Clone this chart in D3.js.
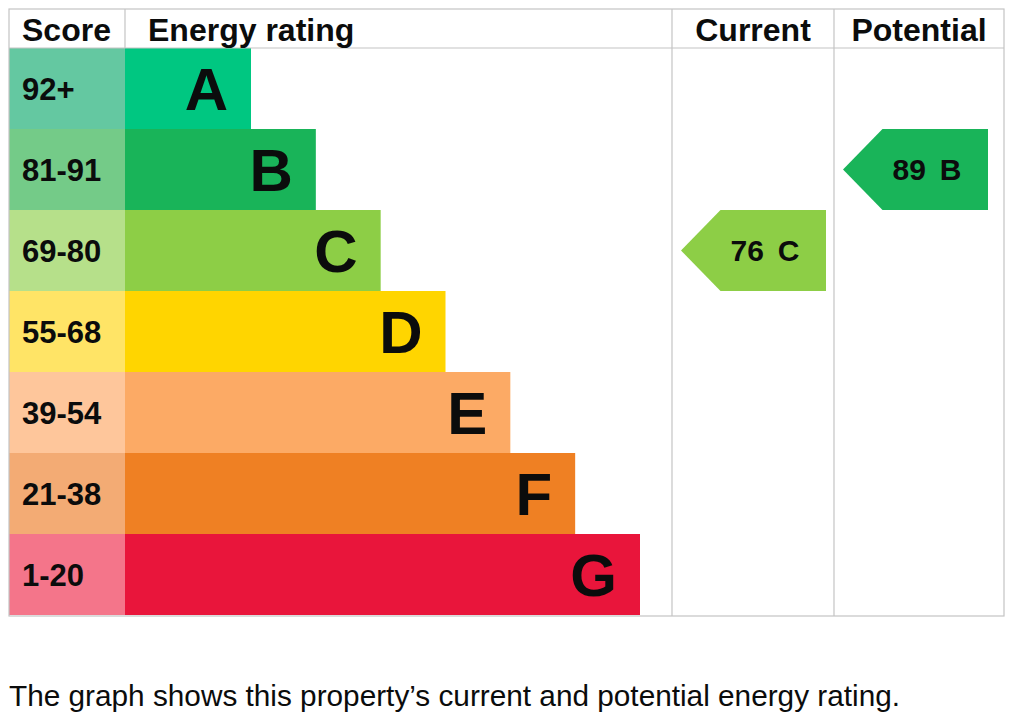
<!DOCTYPE html>
<html>
<head>
<meta charset="utf-8">
<script src="https://cdn.jsdelivr.net/npm/d3@7"></script>
<style>
  html, body { margin: 0; padding: 0; background: #fff; }
  svg { display: block; }
</style>
</head>
<body>
<script>
// EPC energy rating chart

var bands = ['A', 'B', 'C', 'D', 'E', 'F', 'G'];
var scoreLabels = ['92+', '81-91', '69-80', '55-68', '39-54', '21-38', '1-20'];
var bandMin = [92, 81, 69, 55, 39, 21, 1];
var barColors = ['#00c781', '#19b459', '#8dce46', '#ffd500', '#fcaa65', '#ef8023', '#e9153b'];
var scoreColors = ['#64c8a1', '#74cb88', '#b6e08a', '#ffe466', '#fec69b', '#f3ab74', '#f4758a'];
var headers = ['Score', 'Energy rating', 'Current', 'Potential'];
var ratings = [
  {column: 'Current', score: 76},
  {column: 'Potential', score: 89}
];
var caption = 'The graph shows this property\u2019s current and potential energy rating.';

var WIDTH = 1024;
var HEIGHT = 716;
var FONT = '"Liberation Sans", Arial, Helvetica, sans-serif';
var GRID = '#c4c4c4';

var svg = d3.select('body')
  .append('svg')
  .attr('width', WIDTH)
  .attr('height', HEIGHT);

// column edges
var colX = {Score: 9, 'Energy rating': 125, Current: 672, Potential: 834, end: 1004};
var tableTop = 9, headBottom = 48, tableBottom = 616;
var ARROW_W = 145;

var y = d3.scaleBand()
  .domain(bands)
  .range([headBottom, tableBottom - 1]);

// bar end position grows with band index
var barEnd = d3.scaleLinear()
  .domain([0, bands.length - 1])
  .range([251, 640]);

function bandOf(score) {
  for (var i = 0; i < bandMin.length; i++) {
    if (score >= bandMin[i]) return i;
  }
  return bands.length - 1;
}

// score cells
svg.selectAll('rect.score')
  .data(bands)
  .enter()
  .append('rect')
  .attr('class', 'score')
  .attr('x', colX.Score)
  .attr('y', function(d) { return y(d); })
  .attr('width', colX['Energy rating'] - colX.Score)
  .attr('height', y.bandwidth())
  .attr('fill', function(d, i) { return scoreColors[i]; });

svg.selectAll('text.score')
  .data(bands)
  .enter()
  .append('text')
  .attr('class', 'score')
  .attr('x', 22)
  .attr('y', function(d) { return y(d) + y.bandwidth() / 2; })
  .attr('dy', '0.36em')
  .attr('font-family', FONT)
  .attr('font-weight', 'bold')
  .attr('font-size', 31)
  .attr('fill', '#0b0c0c')
  .text(function(d, i) { return scoreLabels[i]; });

// rating bars
svg.selectAll('rect.bar')
  .data(bands)
  .enter()
  .append('rect')
  .attr('class', 'bar')
  .attr('x', colX['Energy rating'])
  .attr('y', function(d) { return y(d); })
  .attr('width', function(d, i) { return barEnd(i) - colX['Energy rating']; })
  .attr('height', y.bandwidth())
  .attr('fill', function(d, i) { return barColors[i]; });

svg.selectAll('text.band')
  .data(bands)
  .enter()
  .append('text')
  .attr('class', 'band')
  .attr('x', function(d, i) { return barEnd(i) - 23; })
  .attr('y', function(d) { return y(d) + y.bandwidth() / 2; })
  .attr('dy', '0.36em')
  .attr('text-anchor', 'end')
  .attr('font-family', FONT)
  .attr('font-weight', 'bold')
  .attr('font-size', 60)
  .attr('fill', '#0b0c0c')
  .text(function(d) { return d; });

// grid lines
var grid = svg.append('g')
  .attr('stroke', GRID)
  .attr('stroke-width', 1.2)
  .attr('fill', 'none');

grid.append('rect')
  .attr('x', colX.Score)
  .attr('y', tableTop)
  .attr('width', colX.end - colX.Score)
  .attr('height', tableBottom - tableTop);

grid.append('line')
  .attr('x1', colX.Score).attr('x2', colX.end)
  .attr('y1', headBottom).attr('y2', headBottom);

grid.append('line')
  .attr('x1', colX['Energy rating']).attr('x2', colX['Energy rating'])
  .attr('y1', tableTop).attr('y2', headBottom);

[colX.Current, colX.Potential].forEach(function(x) {
  grid.append('line')
    .attr('x1', x).attr('x2', x)
    .attr('y1', tableTop).attr('y2', tableBottom);
});

// headers
var headerX = {Score: 22, 'Energy rating': 148};
svg.selectAll('text.header')
  .data(headers)
  .enter()
  .append('text')
  .attr('class', 'header')
  .attr('x', function(d) {
    if (headerX[d] !== undefined) return headerX[d];
    var next = d === 'Current' ? colX.Potential : colX.end;
    return (colX[d] + next) / 2;
  })
  .attr('y', 41)
  .attr('text-anchor', function(d) { return headerX[d] !== undefined ? 'start' : 'middle'; })
  .attr('font-family', FONT)
  .attr('font-weight', 'bold')
  .attr('font-size', 32)
  .attr('fill', '#0b0c0c')
  .text(function(d) { return d; });

// current / potential arrows
var arrows = svg.selectAll('g.arrow')
  .data(ratings)
  .enter()
  .append('g')
  .attr('class', 'arrow');

arrows.append('path')
  .attr('d', function(d) {
    var b = bands[bandOf(d.score)];
    var x0 = colX[d.column] + 9;
    var x1 = x0 + ARROW_W;
    var t = y(b), h = y.bandwidth();
    var tip = h / 2 - 1;
    return 'M' + x0 + ',' + (t + h / 2) +
      'L' + (x0 + tip) + ',' + t +
      'L' + x1 + ',' + t +
      'L' + x1 + ',' + (t + h) +
      'L' + (x0 + tip) + ',' + (t + h) + 'Z';
  })
  .attr('fill', function(d) { return barColors[bandOf(d.score)]; });

var arrowText = arrows.append('text')
  .attr('x', function(d) { return colX[d.column] + 9 + 84; })
  .attr('y', function(d) { return y(bands[bandOf(d.score)]) + y.bandwidth() / 2; })
  .attr('dy', '0.36em')
  .attr('text-anchor', 'middle')
  .attr('font-family', FONT)
  .attr('font-weight', 'bold')
  .attr('font-size', 30)
  .attr('fill', '#0b0c0c');

arrowText.append('tspan').text(function(d) { return d.score; });
arrowText.append('tspan')
  .attr('dx', 14)
  .text(function(d) { return bands[bandOf(d.score)]; });

// caption
svg.append('text')
  .attr('x', 9)
  .attr('y', 706)
  .attr('font-family', FONT)
  .attr('font-size', 29)
  .attr('fill', '#0b0c0c')
  .attr('textLength', 891)
  .attr('lengthAdjust', 'spacingAndGlyphs')
  .text(caption);
</script>
</body>
</html>
